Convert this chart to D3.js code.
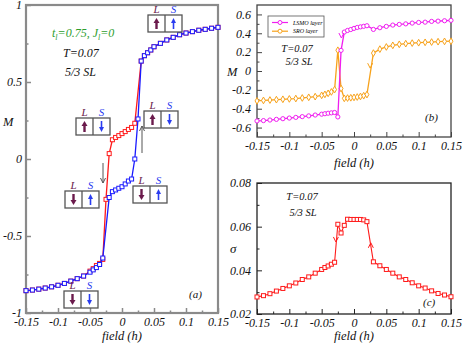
<!DOCTYPE html>
<html>
<head>
<meta charset="utf-8" />
<title>Hysteresis 5/3 SL</title>
<style>
  body { margin: 0; background: #fff; }
  svg text { font-family: "Liberation Serif", "DejaVu Serif", serif !important; font-style: italic; }
</style>
</head>
<body>
<script src="https://d3js.org/d3.v7.min.js"></script>
<script>

// ---- data ----
var fieldTicks = [-0.15, -0.1, -0.05, 0, 0.05, 0.1, 0.15];
var fieldTickLabels = ["-0.15", "-0.1", "-0.05", "0", "0.05", "0.1", "0.15"];
var fieldMinor = [-0.125, -0.075, -0.025, 0.025, 0.075, 0.125];

var mTicksA = [-1, -0.5, 0, 0.5, 1];
var mTickLabelsA = ["-1", "-0.5", "0", "0.5", "1"];
var mMinorA = [-0.75, -0.25, 0.25, 0.75];

var mTicksB = [-0.6, -0.4, -0.2, 0, 0.2, 0.4, 0.6];
var mTickLabelsB = ["-0.6", "-0.4", "-0.2", "0", "0.2", "0.4", "0.6"];
var mMinorB = [-0.5, -0.3, -0.1, 0.1, 0.3, 0.5];

var sTicksC = [0.02, 0.04, 0.06, 0.08];
var sTickLabelsC = ["0.02", "0.04", "0.06", "0.08"];
var sMinorC = [0.03, 0.05, 0.07];

// panel (a): total M, upward sweep (blue) and downward sweep (red)
var fieldUp = [-0.15, -0.14, -0.13, -0.12, -0.11, -0.10, -0.09, -0.08, -0.07, -0.06,
               -0.05, -0.045, -0.04, -0.035, -0.03, -0.02, -0.015, -0.01, -0.005, 0,
               0.005, 0.01, 0.015, 0.02, 0.025, 0.03, 0.035, 0.04, 0.045, 0.05,
               0.06, 0.07, 0.08, 0.09, 0.10, 0.11, 0.12, 0.13, 0.14, 0.15];
var mUp = [-0.855, -0.851, -0.845, -0.838, -0.830, -0.820, -0.808, -0.793, -0.777, -0.760,
           -0.735, -0.720, -0.705, -0.685, -0.643, -0.250, -0.212, -0.201, -0.190, -0.180,
           -0.162, -0.143, -0.130, 0.0, 0.260, 0.636, 0.671, 0.690, 0.708, 0.729,
           0.751, 0.773, 0.790, 0.807, 0.818, 0.827, 0.836, 0.842, 0.849, 0.855];

var fieldDown = [-0.15, -0.14, -0.13, -0.12, -0.11, -0.10, -0.09, -0.08, -0.07, -0.06,
                 -0.05, -0.045, -0.04, -0.035, -0.03, -0.025, -0.02, -0.015, -0.01, -0.005,
                 0, 0.005, 0.01, 0.015, 0.02, 0.03, 0.035, 0.04, 0.045, 0.05,
                 0.06, 0.07, 0.08, 0.09, 0.10, 0.11, 0.12, 0.13, 0.14, 0.15];
var mDown = [-0.855, -0.851, -0.845, -0.838, -0.830, -0.820, -0.808, -0.793, -0.777, -0.760,
             -0.728, -0.712, -0.692, -0.678, -0.652, -0.262, 0.035, 0.125, 0.140, 0.152,
             0.165, 0.178, 0.192, 0.205, 0.232, 0.636, 0.671, 0.690, 0.708, 0.729,
             0.751, 0.773, 0.790, 0.807, 0.818, 0.827, 0.836, 0.842, 0.849, 0.855];

// panel (b): layer resolved M
var fieldLayer = [-0.15, -0.14, -0.13, -0.12, -0.11, -0.10, -0.09, -0.08, -0.07, -0.06,
                  -0.05, -0.045, -0.04, -0.035, -0.03, -0.025, -0.02, -0.015, -0.01, -0.005,
                  0, 0.005, 0.01, 0.015, 0.02, 0.03, 0.04, 0.05, 0.06, 0.07,
                  0.08, 0.09, 0.10, 0.11, 0.12, 0.13, 0.14, 0.15];
var mLsmo = [-0.530, -0.526, -0.520, -0.513, -0.506, -0.499, -0.492, -0.484, -0.476, -0.467,
             -0.458, -0.453, -0.448, -0.444, -0.440, -0.487, 0.219, 0.413, 0.430, 0.440,
             0.452, 0.462, 0.468, 0.474, 0.480, 0.441, 0.459, 0.473, 0.487, 0.494,
             0.500, 0.508, 0.515, 0.518, 0.526, 0.529, 0.533, 0.537];
var mSro = [-0.317, -0.312, -0.308, -0.304, -0.300, -0.296, -0.292, -0.286, -0.279, -0.272,
            -0.258, -0.248, -0.237, -0.222, -0.197, 0.220, -0.186, -0.290, -0.287, -0.284,
            -0.280, -0.276, -0.270, -0.262, -0.250, 0.190, 0.232, 0.255, 0.272, 0.283,
            0.290, 0.296, 0.300, 0.304, 0.307, 0.311, 0.314, 0.316];

// panel (c): sigma
var fieldSigma = fieldLayer;
var sigma = [0.0278, 0.0284, 0.0293, 0.0305, 0.0317, 0.0329, 0.0342, 0.0358, 0.0370, 0.0387,
             0.0404, 0.0413, 0.0420, 0.0428, 0.0437, 0.0611, 0.0571, 0.0606, 0.0634, 0.0633,
             0.0633, 0.0633, 0.0633, 0.0631, 0.0623, 0.0439, 0.0421, 0.0404, 0.0387, 0.0370,
             0.0358, 0.0343, 0.0329, 0.0319, 0.0306, 0.0294, 0.0287, 0.0279];

var legendNames = ["LSMO layer", "SRO layer"];

// ---- layout ----
var width = 463, height = 343;
var serif = "'Liberation Serif', 'DejaVu Serif', serif";
var red = "#ff1a1a", blue = "#1a1aff", magenta = "#f01ef0", orange = "#f7a21b";
var maroon = "#6b1a4c", sBlue = "#2a3cf0";

var svg = d3.select("body").append("svg")
    .attr("width", width)
    .attr("height", height)
    .attr("font-family", serif)
    .attr("font-style", "italic");

var xA = d3.scaleLinear().domain([-0.15, 0.15]).range([26, 218]);
var yA = d3.scaleLinear().domain([-1, 1]).range([313, 5]);
var xB = d3.scaleLinear().domain([-0.15, 0.15]).range([257, 451]);
var yB = d3.scaleLinear().domain([-0.7, 0.7]).range([137, 5]);
var xC = d3.scaleLinear().domain([-0.15, 0.15]).range([257, 451]);
var yC = d3.scaleLinear().domain([0.02, 0.08]).range([314, 183]);

function drawAxes(x, y, o){
    var y0 = y.range()[0], x0 = x.range()[0];
    var bx = svg.append("g").attr("transform", "translate(0," + y0 + ")")
        .call(d3.axisBottom(x).tickValues(fieldTicks).tickSize(-5).tickPadding(4.5)
              .tickFormat((d, i) => fieldTickLabels[i]));
    var bm = svg.append("g").attr("transform", "translate(0," + y0 + ")")
        .call(d3.axisBottom(x).tickValues(fieldMinor).tickSize(-2.5).tickFormat(""));
    var ly = svg.append("g").attr("transform", "translate(" + x0 + ",0)")
        .call(d3.axisLeft(y).tickValues(o.yTicks).tickSize(-5).tickPadding(o.pad)
              .tickFormat((d, i) => o.yLabels[i]));
    var lm = svg.append("g").attr("transform", "translate(" + x0 + ",0)")
        .call(d3.axisLeft(y).tickValues(o.yMinor).tickSize(-2.5).tickFormat(""));
    [bx, bm, ly, lm].forEach(g => {
        g.attr("font-family", serif).attr("font-size", 12).attr("color", o.color);
        g.select(".domain").remove();
        g.selectAll("line").attr("stroke-width", o.tw);
        g.selectAll("text").attr("fill", "#111").attr("font-family", serif).attr("font-style", "italic");
    });

    svg.append("rect")
        .attr("x", x.range()[0]).attr("y", y.range()[1])
        .attr("width", x.range()[1] - x.range()[0])
        .attr("height", y.range()[0] - y.range()[1])
        .attr("fill", "none").attr("stroke", o.color).attr("stroke-width", o.fw);

    label((x.range()[0] + x.range()[1]) / 2, o.labelY, "field (h)", 12.5, "middle");
}

function series(x, y, xs, ys, color, marker, lw){
    var pts = xs.map((d, i) => [d, ys[i]]);
    svg.append("path").datum(pts)
        .attr("fill", "none").attr("stroke", color).attr("stroke-width", lw)
        .attr("d", d3.line().x(d => x(d[0])).y(d => y(d[1])));
    var g = svg.append("g");
    if(marker == "square"){
        g.selectAll("rect").data(pts).enter().append("rect")
            .attr("x", d => x(d[0]) - 2).attr("y", d => y(d[1]) - 2)
            .attr("width", 4).attr("height", 4)
            .attr("fill", "#fff").attr("stroke", color).attr("stroke-width", 1);
    } else if(marker == "circle"){
        g.selectAll("circle").data(pts).enter().append("circle")
            .attr("cx", d => x(d[0])).attr("cy", d => y(d[1])).attr("r", 2.1)
            .attr("fill", "#fff").attr("stroke", color).attr("stroke-width", 1);
    } else {
        g.selectAll("path").data(pts).enter().append("path")
            .attr("transform", d => "translate(" + x(d[0]) + "," + y(d[1]) + ")")
            .attr("d", d3.symbol().type(d3.symbolDiamond).size(13))
            .attr("fill", "#fff").attr("stroke", color).attr("stroke-width", 1);
    }
}

function vHead(x, y, color, down){
    var s = down ? -1 : 1;
    svg.append("path")
        .attr("d", "M" + (x - 2.5) + "," + (y + s * 5) + "L" + x + "," + y + "L" + (x + 2.5) + "," + (y + s * 5))
        .attr("fill", "none").attr("stroke", color).attr("stroke-width", 1);
}

function label(x, y, txt, size, anchor, color){
    return svg.append("text").attr("x", x).attr("y", y).attr("font-size", size)
        .attr("font-family", serif).attr("font-style", "italic")
        .attr("text-anchor", anchor || "start").attr("fill", color || "#111").text(txt);
}

// ---- panel (a) ----
drawAxes(xA, yA, {color: "#8a8a8a", yTicks: mTicksA, yLabels: mTickLabelsA, yMinor: mMinorA,
                  pad: 4, fw: 2.2, tw: 1.5, labelY: 340});
series(xA, yA, fieldDown, mDown, red, "square", 1.3);
series(xA, yA, fieldUp, mUp, blue, "square", 1.3);
label(3, 126, "M", 12.5);

var tl = label(52, 37, "", 12, "start", "#2e9e2e");
tl.append("tspan").text("t");
tl.append("tspan").attr("font-size", 8).attr("dy", 3).text("l");
tl.append("tspan").attr("dy", -3).text("=0.75, J");
tl.append("tspan").attr("font-size", 8).attr("dy", 3).text("l");
tl.append("tspan").attr("dy", -3).text("=0");
label(63, 57, "T=0.07", 12);
label(65, 76, "5/3 SL", 12);
label(189, 298, "(a)", 11);

// thin switching arrows
svg.append("line").attr("x1", 103).attr("x2", 103).attr("y1", 163).attr("y2", 183)
    .attr("stroke", "#555").attr("stroke-width", 1);
vHead(103, 183, "#555", true);
svg.append("line").attr("x1", 142).attr("x2", 142).attr("y1", 153).attr("y2", 126)
    .attr("stroke", "#555").attr("stroke-width", 1);
vHead(142, 126, "#555", false);

// spin configuration boxes
var boxes = [
    {x: 148, y: 15, l: true, s: true},
    {x: 76, y: 118, l: true, s: false},
    {x: 144, y: 111, l: true, s: false},
    {x: 65, y: 191, l: false, s: true},
    {x: 133, y: 186, l: false, s: true},
    {x: 64, y: 291, l: false, s: false}
];

function boxArrow(g, cx, up, color, w, hw){
    var top = 3, bot = 14;
    var tip = up ? top : bot, tail = up ? bot : top, dir = up ? 1 : -1;
    g.append("line").attr("x1", cx).attr("x2", cx).attr("y1", tail).attr("y2", tip + dir * 4)
        .attr("stroke", color).attr("stroke-width", w);
    g.append("path")
        .attr("d", "M" + (cx - hw) + "," + (tip + dir * 5) + "L" + cx + "," + tip + "L" + (cx + hw) + "," + (tip + dir * 5) + "Z")
        .attr("fill", color);
}

boxes.forEach(b => {
    var g = svg.append("g").attr("transform", "translate(" + b.x + "," + b.y + ")");
    g.append("rect").attr("width", 34).attr("height", 17)
        .attr("fill", "#fff").attr("stroke", "#555").attr("stroke-width", 1.3);
    g.append("line").attr("x1", 17).attr("x2", 17).attr("y1", 0).attr("y2", 17)
        .attr("stroke", "#555").attr("stroke-width", 1.3);
    g.append("text").attr("x", 8.5).attr("y", -2).attr("text-anchor", "middle")
        .attr("font-family", serif).attr("font-style", "italic")
        .attr("font-size", 11).attr("fill", maroon).text("L");
    g.append("text").attr("x", 25.5).attr("y", -2).attr("text-anchor", "middle")
        .attr("font-family", serif).attr("font-style", "italic")
        .attr("font-size", 11).attr("fill", sBlue).text("S");
    boxArrow(g, 8.5, b.l, maroon, 2.4, 3);
    boxArrow(g, 25.5, b.s, sBlue, 1.6, 2.5);
});

// ---- panel (b) ----
drawAxes(xB, yB, {color: "#444", yTicks: mTicksB, yLabels: mTickLabelsB, yMinor: mMinorB,
                  pad: 6, fw: 1.3, tw: 1, labelY: 167});
series(xB, yB, fieldLayer, mSro, orange, "diamond", 1.3);
series(xB, yB, fieldLayer, mLsmo, magenta, "circle", 1.3);
vHead(xB(-0.0195), yB(0.35), magenta, true);
vHead(xB(0.025), yB(0.03), orange, true);
label(227, 76, "M", 12.5);
label(297, 52, "T=0.07", 10.5, "middle");
label(299, 65, "5/3 SL", 10.5, "middle");
label(425, 121, "(b)", 11);

var lg = svg.append("g");
lg.append("rect").attr("x", 268).attr("y", 16).attr("width", 56).attr("height", 21)
    .attr("fill", "#fff").attr("stroke", "#555").attr("stroke-width", 0.8);
[magenta, orange].forEach((c, i) => {
    var yy = 22.5 + i * 8.7;
    lg.append("line").attr("x1", 272).attr("x2", 288).attr("y1", yy).attr("y2", yy)
        .attr("stroke", c).attr("stroke-width", 1.2);
    lg.append("circle").attr("cx", 280).attr("cy", yy).attr("r", 2)
        .attr("fill", "#fff").attr("stroke", c).attr("stroke-width", 1);
    lg.append("text").attr("x", 293).attr("y", yy + 2).attr("font-size", 6)
        .attr("font-family", serif).attr("font-style", "italic").text(legendNames[i]);
});

// ---- panel (c) ----
drawAxes(xC, yC, {color: "#222", yTicks: sTicksC, yLabels: sTickLabelsC, yMinor: sMinorC,
                  pad: 6, fw: 1.3, tw: 1, labelY: 340});
series(xC, yC, fieldSigma, sigma, red, "square", 1.1);
vHead(xC(-0.028), yC(0.053), red, true);
vHead(xC(0.026), yC(0.0526), red, false);
label(230, 253, "σ", 13);
label(302, 200, "T=0.07", 10.5, "middle");
label(303, 216, "5/3 SL", 10.5, "middle");
label(423, 306, "(c)", 11);

</script>
</body>
</html>
